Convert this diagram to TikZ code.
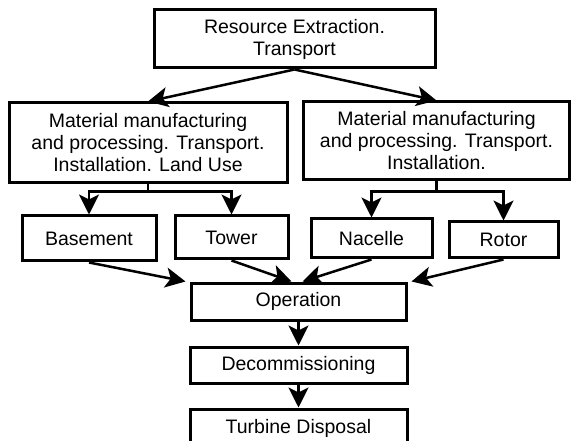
\documentclass[tikz,border=0pt]{standalone}
\usepackage{fontspec}
\setmainfont{Liberation Sans}
\usetikzlibrary{arrows.meta}
\begin{document}
\begin{tikzpicture}[x=1pt,y=1pt,
  box/.style={draw, line width=3pt, inner sep=0pt, align=center,
    font=\fontsize{19.5}{22}\selectfont},
  arr/.style={line width=2.5pt, -{Stealth[length=20pt,width=20pt,inset=5pt]}},
  link/.style={line width=2.5pt}]
\useasboundingbox (0,-441) rectangle (571,0);
\clip (0,-441) rectangle (571,0);

% stages
\node[box, minimum width=281pt, minimum height=58pt] (res) at (294.5,-39)
  {Resource Extraction.\\Transport};
\node[box, minimum width=278pt, minimum height=80pt] (mat1) at (148,-143)
  {Material manufacturing\\and processing. Transport.\\Installation. Land Use};
\node[box, minimum width=266pt, minimum height=78pt] (mat2) at (436.5,-141)
  {Material manufacturing\\and processing. Transport.\\Installation.};
\node[box, minimum width=134pt, minimum height=45pt] (base) at (89,-238.5) {Basement};
\node[box, minimum width=113pt, minimum height=43pt] (tower) at (231.5,-237.5) {Tower};
\node[box, minimum width=121pt, minimum height=39pt] (nac) at (371.5,-238.5) {Nacelle};
\node[box, minimum width=109pt, minimum height=36pt] (rot) at (503.5,-240) {Rotor};
\node[box, minimum width=215pt, minimum height=37pt] (op) at (298.5,-301.5) {Operation};
\node[box, minimum width=217pt, minimum height=36pt] (dec) at (298.5,-365) {Decommissioning};
\node[box, minimum width=217pt, minimum height=38pt] (disp) at (298.5,-428) {Turbine Disposal};

% flows
\draw[arr] (res.south) -- (mat1.north);
\draw[arr] (res.south) -- (mat2.north);

\draw[link] (mat1.south) -- ++(0,-7) coordinate (j1);
\draw[arr] (j1) -| (base.north);
\draw[arr] (j1) -| (tower.north);

\draw[link] (mat2.south) -- ++(0,-10) coordinate (j2);
\draw[arr] (j2) -| (nac.north);
\draw[arr] (j2) -| (rot.north);

\draw[arr] (base.south) -- ([xshift=-4pt]op.north west);
\draw[arr] (tower.south) -- ([xshift=-7pt]op.north);
\draw[arr] (nac.south) -- ([xshift=4pt]op.north);
\draw[arr] (rot.south) -- ([xshift=4pt]op.north east);

\draw[arr] (op.south) -- (dec.north);
\draw[arr] (dec.south) -- (disp.north);
\end{tikzpicture}
\end{document}
